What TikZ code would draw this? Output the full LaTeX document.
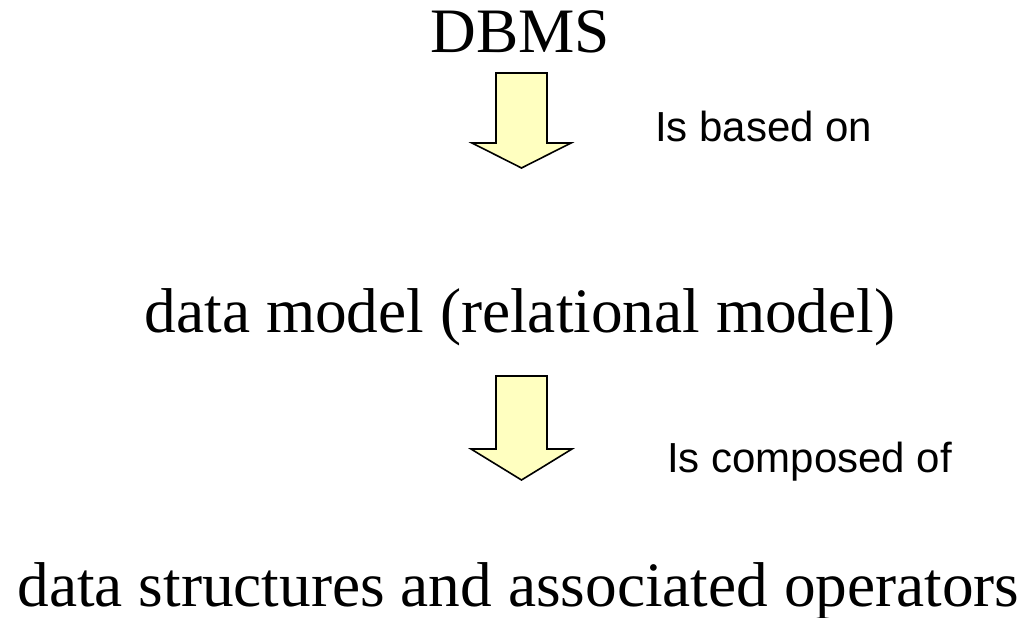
\documentclass[tikz,border=0pt]{standalone}
\usepackage{fontspec}
\setmainfont{Liberation Serif}
\newfontfamily\arialf{Liberation Sans}
\definecolor{arrowfill}{HTML}{FFFFC0}
\tikzset{
  bigtext/.style={font=\fontsize{63.3}{63.3}\selectfont, inner sep=0pt, anchor=base},
  labeltext/.style={font=\arialf\fontsize{42}{42}\selectfont, inner sep=0pt, anchor=base west},
  blockarrow/.style={draw=black, fill=arrowfill, line width=1.6pt, line join=miter}
}
\begin{document}
\begin{tikzpicture}[x=1pt,y=-1pt]
\useasboundingbox (0,0) rectangle (1034,618);
\node[bigtext] (dbms) at (520.5,53) {DBMS};
\node[bigtext] (dm) at (520,332) {data model (relational model)};
\node[bigtext] (ds) at (518.5,606) {data structures and associated operators};
\node[labeltext] (l1) at (655,141) {Is based on};
\node[labeltext] (l2) at (667,472) {Is composed of};
\draw[blockarrow] (496,73) -- (547,73) -- (547,143) -- (571,143) -- (521.5,168) -- (472,143) -- (496,143) -- cycle;
\draw[blockarrow] (496,376) -- (547,376) -- (547,449) -- (572,449) -- (521.5,480) -- (471,449) -- (496,449) -- cycle;
\end{tikzpicture}
\end{document}
